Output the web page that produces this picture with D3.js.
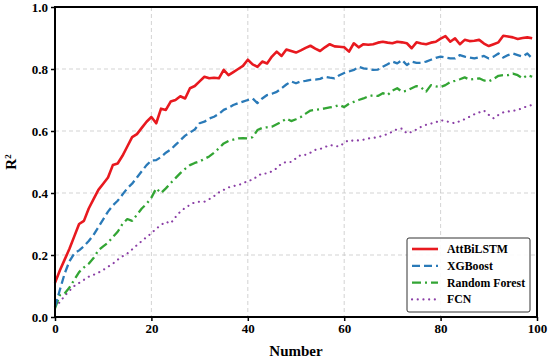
<html>
<head>
<meta charset="utf-8">
<script src="https://cdn.jsdelivr.net/npm/d3@7"></script>
<style>
  body { margin: 0; background: #fff; }
  text { font-family: "Liberation Serif", "Times New Roman", serif; font-weight: bold; }
</style>
</head>
<body>
<svg width="550" height="361"></svg>
<script>
// data, x = 0..99
var attbilstm = [0.11,0.15,0.185,0.22,0.26,0.30,0.31,0.35,0.38,0.41,
  0.43,0.45,0.49,0.495,0.52,0.55,0.58,0.59,0.61,0.63,
  0.645,0.625,0.672,0.668,0.695,0.70,0.712,0.705,0.738,0.745,
  0.76,0.775,0.77,0.772,0.77,0.797,0.78,0.79,0.80,0.81,
  0.83,0.815,0.807,0.824,0.818,0.84,0.856,0.842,0.863,0.858,
  0.853,0.86,0.868,0.875,0.866,0.858,0.87,0.88,0.873,0.872,
  0.87,0.856,0.883,0.87,0.88,0.878,0.88,0.885,0.888,0.885,
  0.883,0.888,0.886,0.883,0.867,0.886,0.882,0.88,0.885,0.888,
  0.898,0.906,0.888,0.899,0.88,0.894,0.89,0.891,0.894,0.882,
  0.874,0.88,0.886,0.907,0.905,0.902,0.897,0.9,0.902,0.899];
var xgboost = [0.033,0.087,0.14,0.18,0.205,0.215,0.228,0.245,0.265,0.29,
  0.315,0.34,0.36,0.375,0.395,0.415,0.43,0.45,0.47,0.49,
  0.505,0.506,0.516,0.53,0.54,0.555,0.57,0.585,0.595,0.605,
  0.625,0.63,0.64,0.646,0.655,0.668,0.675,0.684,0.69,0.695,
  0.70,0.705,0.69,0.705,0.716,0.72,0.726,0.738,0.75,0.76,
  0.754,0.76,0.762,0.765,0.766,0.768,0.775,0.772,0.77,0.78,
  0.787,0.792,0.797,0.807,0.802,0.80,0.797,0.798,0.807,0.815,
  0.824,0.818,0.829,0.813,0.824,0.82,0.82,0.824,0.83,0.836,
  0.84,0.837,0.834,0.834,0.845,0.84,0.837,0.834,0.838,0.842,
  0.834,0.84,0.85,0.837,0.845,0.85,0.845,0.84,0.85,0.834];
var randomForest = [0.028,0.07,0.076,0.095,0.12,0.145,0.16,0.172,0.19,0.215,
  0.228,0.24,0.258,0.275,0.30,0.316,0.31,0.33,0.35,0.365,
  0.385,0.415,0.40,0.415,0.432,0.448,0.464,0.478,0.49,0.497,
  0.502,0.51,0.518,0.53,0.544,0.56,0.568,0.572,0.576,0.577,
  0.576,0.58,0.603,0.61,0.612,0.614,0.622,0.63,0.64,0.632,
  0.638,0.645,0.656,0.666,0.668,0.67,0.673,0.676,0.679,0.684,
  0.677,0.688,0.694,0.70,0.705,0.712,0.715,0.713,0.722,0.716,
  0.73,0.738,0.727,0.73,0.738,0.745,0.74,0.727,0.748,0.744,
  0.742,0.748,0.758,0.762,0.767,0.773,0.766,0.768,0.77,0.763,
  0.76,0.768,0.778,0.78,0.78,0.785,0.78,0.77,0.78,0.775];
var fcn = [0.033,0.048,0.068,0.085,0.10,0.11,0.12,0.13,0.136,0.143,
  0.152,0.162,0.172,0.185,0.196,0.205,0.218,0.232,0.245,0.258,
  0.27,0.285,0.297,0.307,0.302,0.322,0.34,0.352,0.362,0.37,
  0.372,0.372,0.38,0.39,0.402,0.41,0.418,0.422,0.426,0.43,
  0.44,0.442,0.455,0.463,0.463,0.47,0.48,0.495,0.50,0.50,
  0.512,0.523,0.523,0.53,0.539,0.542,0.548,0.555,0.552,0.55,
  0.562,0.571,0.568,0.57,0.572,0.576,0.578,0.58,0.585,0.59,
  0.598,0.606,0.608,0.592,0.597,0.605,0.614,0.62,0.624,0.628,
  0.635,0.632,0.628,0.625,0.632,0.638,0.646,0.654,0.66,0.666,
  0.652,0.641,0.652,0.66,0.663,0.665,0.668,0.674,0.68,0.684];

var seriesNames = ["AttBiLSTM", "XGBoost", "Random Forest", "FCN"];
var xTicks = [0, 20, 40, 60, 80, 100];
var yTicks = [0.0, 0.2, 0.4, 0.6, 0.8, 1.0];

var series = [
  {name: seriesNames[0], values: attbilstm, color: "#e8191f", width: 2.6, dash: null, cap: "butt"},
  {name: seriesNames[1], values: xgboost, color: "#2a7ab8", width: 2.3, dash: "8,4", cap: "butt"},
  {name: seriesNames[2], values: randomForest, color: "#33a534", width: 2.3, dash: "9,4,2,4", cap: "butt"},
  {name: seriesNames[3], values: fcn, color: "#8b3fa6", width: 2.1, dash: "0.1,5.6", cap: "round"}
];

var svg = d3.select("svg");
var pLeft = 55, pRight = 537, pTop = 7, pBottom = 317;

var x = d3.scaleLinear().domain([0, 100]).range([pLeft, pRight]);
var y = d3.scaleLinear().domain([0, 1]).range([pBottom, pTop]);

// grid
svg.append("g").selectAll("line").data(xTicks.slice(1, -1)).enter().append("line")
  .attr("x1", d => x(d)).attr("x2", d => x(d)).attr("y1", pTop).attr("y2", pBottom)
  .attr("stroke", "#c8c8c8").attr("stroke-width", 0.8).attr("stroke-dasharray", "4,3");
svg.append("g").selectAll("line").data(yTicks.slice(1, -1)).enter().append("line")
  .attr("y1", d => y(d)).attr("y2", d => y(d)).attr("x1", pLeft).attr("x2", pRight)
  .attr("stroke", "#c8c8c8").attr("stroke-width", 0.8).attr("stroke-dasharray", "4,3");

// lines
var line = d3.line().x((d, i) => x(i)).y(d => y(d));
svg.append("g").selectAll("path").data(series.slice().reverse()).enter().append("path")
  .attr("d", d => line(d.values))
  .attr("fill", "none")
  .attr("stroke", d => d.color)
  .attr("stroke-width", d => d.width)
  .attr("stroke-dasharray", d => d.dash)
  .attr("stroke-linecap", d => d.cap)
  .attr("stroke-linejoin", "round");

// axes
var xAxis = svg.append("g").attr("transform", "translate(0," + pBottom + ")")
  .call(d3.axisBottom(x).tickValues(xTicks).tickSize(4).tickPadding(3).tickFormat(d3.format("d")));
var yAxis = svg.append("g").attr("transform", "translate(" + pLeft + ",0)")
  .call(d3.axisLeft(y).tickValues(yTicks).tickSize(4).tickPadding(3).tickFormat(d3.format(".1f")));
[xAxis, yAxis].forEach(function(a) {
  a.select(".domain").remove();
  a.selectAll(".tick line").attr("stroke", "#000").attr("stroke-width", 1.5);
  a.selectAll(".tick text").attr("fill", "#000").style("font-size", "13px")
    .style("font-family", "'Liberation Serif', serif").style("font-weight", "bold");
});

// frame
svg.append("rect").attr("x", pLeft).attr("y", pTop).attr("width", pRight - pLeft).attr("height", pBottom - pTop)
  .attr("fill", "none").attr("stroke", "#000").attr("stroke-width", 2);

// titles
svg.append("text").attr("x", (pLeft + pRight) / 2).attr("y", 356).attr("text-anchor", "middle")
  .style("font-size", "15px").text("Number");
svg.append("text").attr("transform", "translate(16," + ((pTop + pBottom) / 2) + ") rotate(-90)")
  .attr("text-anchor", "middle").style("font-size", "15px")
  .html("R<tspan dy='-5' font-size='9px'>2</tspan>");

// legend
var lg = svg.append("g").attr("transform", "translate(407,238)");
lg.append("rect").attr("width", 123).attr("height", 74).attr("rx", 2)
  .attr("fill", "#fff").attr("fill-opacity", 0.9).attr("stroke", "#333").attr("stroke-width", 1);
var items = lg.selectAll("g.item").data(series).enter().append("g")
  .attr("transform", (d, i) => "translate(0," + (11 + i * 16.8) + ")");
items.append("line").attr("x1", 5).attr("x2", 31).attr("y1", 0).attr("y2", 0)
  .attr("stroke", d => d.color).attr("stroke-width", d => d.width)
  .attr("stroke-dasharray", d => d.dash).attr("stroke-linecap", d => d.cap);
items.append("text").attr("x", 40).attr("y", 4).style("font-size", "11.8px").text(d => d.name);
</script>
</body>
</html>
